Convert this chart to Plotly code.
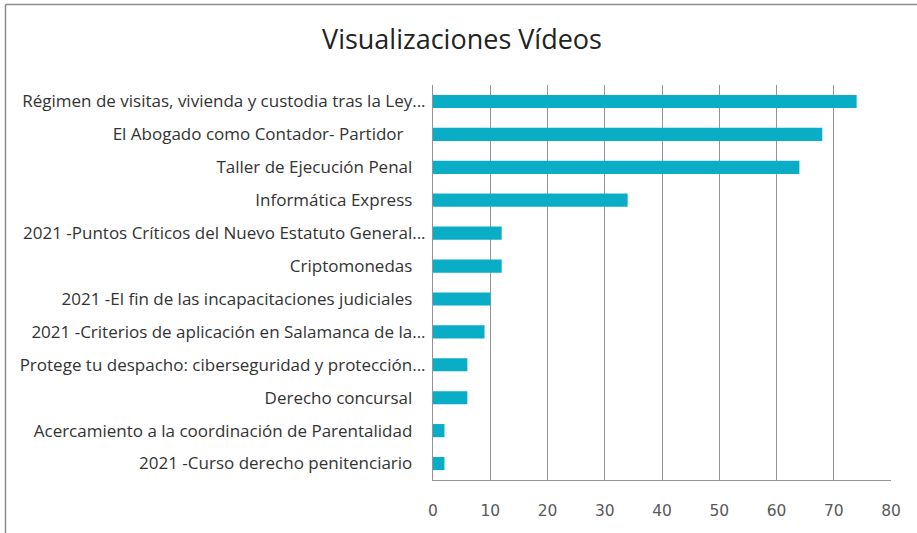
import plotly.graph_objects as go

NB = "\u00a0"
categories = [
    "Régimen de visitas, vivienda y custodia tras la Ley...",
    "El Abogado como Contador- Partidor" + NB * 5,
    "Taller de Ejecución Penal" + NB * 3,
    "Informática Express" + NB * 3,
    "2021 -Puntos Críticos del Nuevo Estatuto General...",
    "Criptomonedas" + NB * 3,
    "2021 -El fin de las incapacitaciones judiciales" + NB * 3,
    "2021 -Criterios de aplicación en Salamanca de la...",
    "Protege tu despacho: ciberseguridad y protección...",
    "Derecho concursal" + NB * 3,
    "Acercamiento a la coordinación de Parentalidad" + NB * 3,
    "2021 -Curso derecho penitenciario" + NB * 3,
]
views = [74, 68, 64, 34, 12, 12, 10, 9, 6, 6, 2, 2]
x_ticks = [0, 10, 20, 30, 40, 50, 60, 70, 80]

W, H = 917, 533
L, R, T, B = 433, 26, 85, 53
pw, ph = W - L - R, H - T - B

fig = go.Figure(go.Bar(
    x=views, y=categories, orientation="h",
    marker=dict(color="#0AADC6", line=dict(width=0)),
    width=0.4,
))

fig.update_layout(
    width=W, height=H,
    margin=dict(l=L, r=R, t=T, b=B, pad=0),
    paper_bgcolor="white", plot_bgcolor="white",
    showlegend=False,
    title=dict(text="Visualizaciones Vídeos", x=(462 / W), xanchor="center",
               y=1 - 40 / H, yanchor="middle",
               font=dict(family="Open Sans", size=27, color="#222222")),
    font=dict(family="Open Sans"),
)
fig.update_xaxes(
    range=[0, 80], tickvals=x_ticks, ticktext=[str(v) for v in x_ticks],
    showgrid=True, gridcolor="#949494", gridwidth=1,
    showline=True, linecolor="#949494", linewidth=1, mirror=False,
    zeroline=False, ticks="", ticklabelstandoff=16,
    tickfont=dict(family="DejaVu Sans", size=15.5, color="#595959"),
)
fig.update_yaxes(
    autorange="reversed", showgrid=False,
    showline=True, linecolor="#949494", linewidth=1,
    ticks="", ticklabelstandoff=3,
    tickfont=dict(family="Open Sans", size=17, color="#333333"),
)
# cropped outer chart frame (top and left edges visible)
fig.add_shape(type="line", xref="paper", yref="paper",
              x0=(5.5 - L) / pw, x1=(W - L) / pw + 0.01,
              y0=(H - B - 4.5) / ph, y1=(H - B - 4.5) / ph,
              line=dict(color="#8c8c8c", width=1.5))
fig.add_shape(type="line", xref="paper", yref="paper",
              x0=(5.5 - L) / pw, x1=(5.5 - L) / pw,
              y0=(H - B - 4.5) / ph, y1=-B / ph - 0.01,
              line=dict(color="#8c8c8c", width=1.5))

fig.write_html("out.html", config={"displayModeBar": False},
               post_script="document.body.style.margin='0';")
